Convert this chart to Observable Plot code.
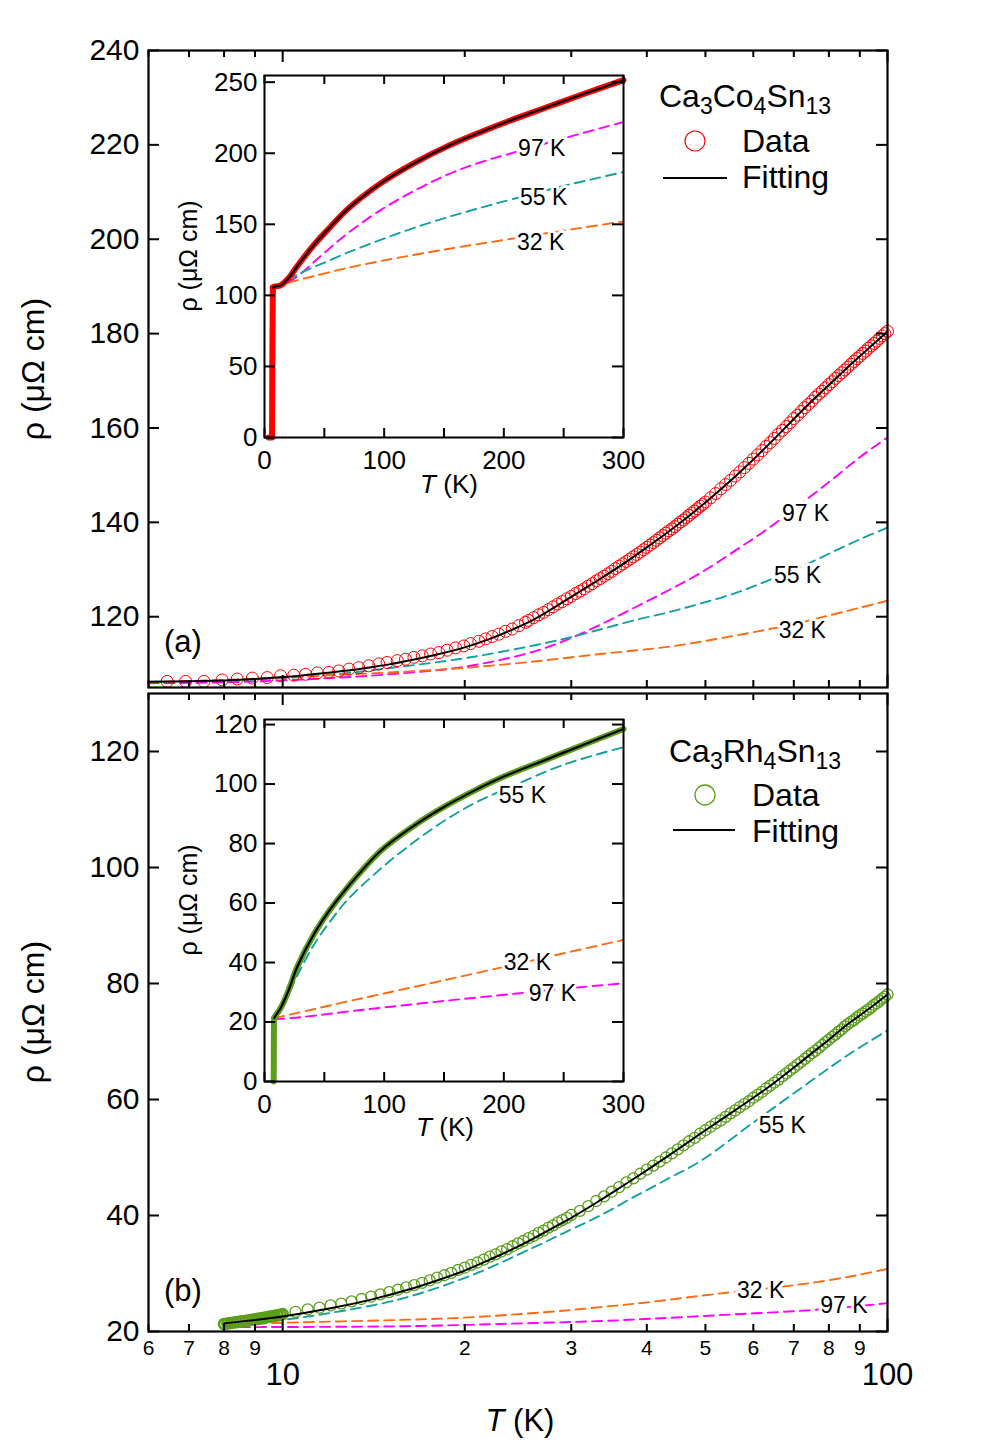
<!DOCTYPE html>
<html>
<head>
<meta charset="utf-8">
<script src="https://cdn.jsdelivr.net/npm/d3@7"></script>
<script src="https://cdn.jsdelivr.net/npm/@observablehq/plot@0.6"></script>
<style>
  body { margin: 0; background: #fff; }
  #root { position: relative; width: 982px; height: 1450px; overflow: hidden; background: #fff; }
  #root svg { overflow: visible; }
</style>
</head>
<body>
<div id="root"></div>
<script>
const FONT = '"Liberation Sans", Arial, Helvetica, sans-serif';

// ---------- tick values ----------
const yTicksA = [120, 140, 160, 180, 200, 220, 240];
const yTicksB = [20, 40, 60, 80, 100, 120];
const xMajor = [10, 100];
const xMajorLabels = ["10", "100"];
const xMinor = [6, 7, 8, 9, 20, 30, 40, 50, 60, 70, 80, 90];
const xMinorLabels = ["6", "7", "8", "9", "2", "3", "4", "5", "6", "7", "8", "9"];
const insetXTicks = [0, 50, 100, 150, 200, 250, 300];
const insetXLabels = [0, 100, 200, 300];
const insetYTicksA = [0, 50, 100, 150, 200, 250];
const insetYTicksB = [0, 20, 40, 60, 80, 100, 120];

// ---------- panel (a): Ca3Co4Sn13, main ----------
const aDataT = [6.44,6.91,7.41,7.94,8.41,8.91,9.43,9.92,10.43,10.91,11.41,11.92,12.38,12.87,13.36,13.88,14.42,14.88,15.47,15.96,16.48,17.01,17.56,18.12,18.70,19.31,19.93,20.44,21.10,21.65,22.20,22.77,23.35,23.96,24.57,25.2,
 25.5,26,26.5,27,27.5,28,28.5,29,29.5,30,30.5,31,31.5,32,32.5,33,33.5,34,34.5,35,35.5,36,36.5,37,37.5,38,38.5,39,39.5,40,40.5,41,41.5,42,42.5,43,43.5,44,44.5,45,45.5,46,46.5,47,47.5,48,48.5,49,49.5,50,
 51,52,53,54,55,56,57,58,59,60,61,62,63,64,65,66,67,68,69,70,71,72,73,74,75,76,77,78,79,80,81,82,83,84,85,86,87,88,89,90,91,92,93,94,95,96,97,98,99,100];
const aDataV = [106.3,106.3,106.3,106.6,106.8,107.0,107.1,107.5,107.6,107.8,108.1,108.2,108.5,108.9,109.2,109.6,110.0,110.3,110.7,111.0,111.4,111.7,112.1,112.4,112.9,113.4,113.8,114.3,114.8,115.3,115.8,116.3,116.9,117.4,118.1,118.8,
 119.2,119.8,120.4,120.9,121.5,122.1,122.7,123.2,123.8,124.3,124.9,125.4,125.9,126.5,127.0,127.6,128.1,128.6,129.1,129.6,130.2,130.7,131.2,131.7,132.2,132.7,133.2,133.7,134.2,134.7,135.2,135.7,136.2,136.7,137.2,137.7,138.2,138.6,139.1,139.6,140.1,140.5,141.0,141.5,142.0,142.4,142.9,143.4,143.8,144.3,
 145.2,146.1,147.1,148.0,148.9,149.8,150.7,151.6,152.5,153.4,154.3,155.2,156.1,156.9,157.8,158.7,159.5,160.3,161.1,162.0,162.7,163.5,164.3,165.0,165.7,166.5,167.2,167.8,168.5,169.2,169.8,170.5,171.1,171.7,172.3,172.9,173.5,174.1,174.7,175.2,175.8,176.3,176.9,177.4,177.9,178.4,179.0,179.5,180.0,180.5];
const aFitT = [6,7,8,9,10,11,12,13,14,15,16,18,20,22,24,26,28,30,33,36,40,45,50,55,60,65,70,75,80,85,90,95,100];
const aFitV = [106.2,106.3,106.5,106.8,107.2,107.7,108.2,108.7,109.3,109.9,110.6,112.0,113.5,115.3,117.3,119.4,121.8,124.2,127.5,130.6,134.7,139.5,144.2,148.8,153.3,157.7,161.9,165.7,169.1,172.3,175.2,177.9,180.4];
const a97T = [6,8,10,12,15,20,26,29.6,33.5,38,43.3,49.1,56,63.3,72,81.4,90,100];
const a97V = [105.9,106.1,106.5,107.0,107.8,109.4,112.6,115.2,118.3,121.8,125.5,129.3,134.0,138.6,144.0,149.3,153.8,158.0];
const a55T = [6,8,10,12,15.66,20.2,26,29.6,33.5,38,43.3,49.1,56,63.3,72,81.4,90,100];
const a55V = [106.2,106.5,107.0,107.7,109.4,111.3,113.9,115.5,117.3,119.2,120.9,122.8,125.0,127.6,130.6,133.8,136.4,138.9];
const a32T = [6,8,10,12,15.66,20.2,26,33.5,43.3,49.1,56,63.3,72,81.4,90,100];
const a32V = [106.1,106.6,107.1,107.6,108.3,109.2,110.5,112.1,113.6,114.7,116.0,117.3,118.8,120.5,121.9,123.4];
const aLabT = [73.2, 71.0, 72.3];
const aLabV = [141.8, 128.7, 117.0];
const aLabS = ["97 K", "55 K", "32 K"];

// ---------- panel (b): Ca3Rh4Sn13, main ----------
const bDataT = [8,8.1,8.2,8.3,8.4,8.5,8.6,8.7,8.8,8.9,9,9.1,9.2,9.3,9.4,9.5,9.6,9.7,9.8,9.9,10,
 10.5,11,11.5,12,12.5,13,13.5,14,14.5,15,15.5,16,16.5,17,17.5,18,18.5,19,19.5,20,20.5,21,21.5,22,22.5,23,23.5,24,24.5,25,25.5,26,26.5,27,27.5,28,28.5,29,29.5,30,
 31,32,33,34,35,36,37,38,39,40,41,42,43,44,45,46,47,48,49,50,51,52,53,54,55,56,57,58,59,60,61,62,63,64,65,66,67,68,69,70,71,72,73,74,75,76,77,78,79,80,81,82,83,84,85,86,87,88,89,90,91,92,93,94,95,96,97,98,99,100];
const bDataV = [21.30,21.38,21.46,21.54,21.62,21.70,21.78,21.86,21.94,22.02,22.10,22.18,22.26,22.35,22.44,22.53,22.62,22.71,22.80,22.90,23.00,
 23.4,23.8,24.1,24.5,24.8,25.2,25.6,26.0,26.4,26.8,27.2,27.6,28.0,28.4,28.8,29.3,29.7,30.1,30.6,31.0,31.5,31.9,32.4,32.9,33.3,33.8,34.2,34.7,35.2,35.6,36.1,36.5,37.0,37.4,37.9,38.3,38.8,39.2,39.6,40.1,
 40.8,41.6,42.5,43.3,44.1,44.9,45.7,46.4,47.2,47.9,48.6,49.3,50.0,50.7,51.4,52.1,52.8,53.4,54.1,54.7,55.3,55.9,56.4,57.0,57.6,58.1,58.7,59.2,59.7,60.3,60.8,61.3,61.9,62.4,62.9,63.4,64.0,64.5,65.0,65.5,66.0,66.5,67.0,67.5,68.0,68.4,68.9,69.4,69.9,70.3,70.8,71.2,71.7,72.1,72.6,73.0,73.4,73.7,74.1,74.5,74.8,75.2,75.5,75.9,76.3,76.6,77.0,77.4,77.7,78.1];
const bFitT = [8,9,10,12,14,16,18,20,22,25,28,30,33,36,40,45,50,55,60,65,70,75,80,85,90,95,100];
const bFitV = [21.4,22.0,22.6,24.0,25.5,27.1,28.8,30.5,32.4,35.1,37.9,39.6,42.2,44.7,47.8,51.4,54.7,57.6,60.3,62.9,65.5,68.0,70.3,72.6,74.5,76.3,78.1];
const b55T = [8,10,12,15.66,20.3,26,29.6,33.5,38.1,43.3,49.1,60.5,74.3,86.4,100];
const b55V = [21.1,22.0,23.2,25.6,29.5,34.5,37.3,40.0,43.2,46.3,49.4,56.3,63.0,67.8,71.9];
const b32T = [8,10,15.66,20,27.7,33.5,40.6,52.3,69.1,79.5,90,100];
const b32V = [21.2,21.5,22.0,22.4,23.4,24.2,25.1,26.5,27.9,28.8,29.8,30.8];
const b97T = [8,15.66,22.9,33.5,40.6,52.3,75,90,100];
const b97V = [20.75,20.9,21.3,21.8,22.2,22.8,23.7,24.4,24.9];
const bLabT = [67.0, 61.7, 84.7];
const bLabV = [55.5, 27.1, 24.5];
const bLabS = ["55 K", "32 K", "97 K"];

// ---------- inset (a) ----------
const iaDataT = [3.5,6.3,6.6,7,9,13.4,20,27.3,41.3,55.2,69.2,97,125,153,181,208.5,236.4,264.3,300];
const iaDataV = [0,0,60,105.5,106.3,107,112,120.5,135.5,148.3,160.5,178.8,193,205,215,224,232.5,241,251.4];
const ia97T = [7,13,20,30,41.3,55,69.2,97,125,153,180,208.5,250,300];
const ia97V = [106,106.8,109.2,115,123.5,133.5,143.5,160,173.5,185,193.5,200.5,210.5,222];
const ia55T = [7,15,20,30,40,50,69.2,97,125,153,180,208.5,250,300];
const ia55V = [106,109.2,111.3,115.6,119.5,123,130,139,147.5,155,161.5,168,177,186.8];
const ia32T = [7,20,40,69.2,100,153,208.5,250,300];
const ia32V = [106,109.0,113.3,119.3,124.6,132.6,140.1,145.6,152];
const iaLabT = [231.7, 233.3, 230.8];
const iaLabV = [203.5, 169, 137.3];
const iaLabS = ["97 K", "55 K", "32 K"];

// ---------- inset (b) ----------
const ibDataT = [7.7,7.8,7.9,8.2,10,13.4,20,27.3,41.3,55.2,69.2,97,125,150,175,200,236,264,300];
const ibDataV = [0,10,21.2,21.4,22.6,24.6,30.5,38.5,49.5,58,65.2,77.5,86,92.3,97.7,102.5,108.3,112.8,118.5];
const ib55T = [8.2,13.4,20,27.3,41.3,55.2,69.2,97,124.9,152.8,180,208.5,250,300];
const ib55V = [21.3,23.5,29,35.5,46,54,61,71.5,80.5,88.3,94.5,99.5,106.5,112.4];
const ib32T = [8.2,40,69.2,100,153,208.5,250,300];
const ib32V = [21.3,24.2,26.9,29.6,34.3,39.3,43.1,47.6];
const ib97T = [8.2,30,69.2,100,153,208.5,250,300];
const ib97V = [20.9,21.6,23.5,24.9,27.2,29.5,31.2,33];
const ibLabT = [215.5, 219.7, 240.6];
const ibLabV = [96.1, 40.1, 29.5];
const ibLabS = ["55 K", "32 K", "97 K"];

// ---------- colours ----------
const RED = "#ff0000", GREEN = "#5a9e1c", MAG = "#ff00ff", TEAL = "#15a0a0", ORANGE = "#ff6a10";

const rows = (T, V) => T.slice(0, Math.min(T.length, V.length)).map((t, i) => ({T: t, v: V[i]}));
const labRows = (T, V, S) => T.map((t, i) => ({T: t, v: V[i], s: S[i]}));

const dash = (T, V, color) => Plot.line(rows(T, V), {x: "T", y: "v", stroke: color, strokeWidth: 1.9, strokeDasharray: "10,6", curve: "catmull-rom"});
const fitLine = (data, w = 2) => Plot.line(data, {x: "T", y: "v", stroke: "black", strokeWidth: w, curve: "catmull-rom"});
const labels = (T, V, S) => Plot.text(labRows(T, V, S), {x: "T", y: "v", text: "s", fontSize: 23, fill: "black", stroke: "white", strokeWidth: 6, paintOrder: "stroke"});

const root = document.getElementById("root");
function place(el, left, top) {
  el.style.position = "absolute";
  el.style.left = left + "px";
  el.style.top = top + "px";
  root.appendChild(el);
}

function mainPanel({yDomain, yTicks, height, marginTop, marginBottom, marks, bottomLabels}) {
  const fw = 982 - 148 - 95, fh = height - marginTop - marginBottom;
  const extra = bottomLabels ? [
    Plot.text(xMinor, {x: d => d, text: (d, i) => xMinorLabels[i], frameAnchor: "bottom", lineAnchor: "middle", dy: 17, fontSize: 21}),
    Plot.text(xMajor, {x: d => d, text: (d, i) => xMajorLabels[i], frameAnchor: "bottom", lineAnchor: "middle", dy: 44, fontSize: 31})
  ] : [];
  return Plot.plot({
    width: 982, height, marginLeft: 148, marginRight: 95, marginTop, marginBottom,
    x: {type: "log", domain: [6, 100], axis: null},
    y: {domain: yDomain, axis: null},
    style: {fontFamily: FONT, background: "transparent", overflow: "visible", color: "black"},
    marks: [
      ...marks,
      Plot.tickY(yTicks, {y: d => d, insetRight: fw - 11, strokeWidth: 2}),
      Plot.tickY(yTicks, {y: d => d, insetLeft: fw - 11, strokeWidth: 2}),
      Plot.tickX(xMajor, {x: d => d, insetTop: fh - 12, strokeWidth: 2}),
      Plot.tickX(xMinor, {x: d => d, insetTop: fh - 7, strokeWidth: 2}),
      Plot.tickX(xMajor, {x: d => d, insetBottom: fh - 12, strokeWidth: 2}),
      Plot.tickX(xMinor, {x: d => d, insetBottom: fh - 7, strokeWidth: 2}),
      Plot.text(yTicks, {y: d => d, text: d => String(d), frameAnchor: "left", lineAnchor: "middle", textAnchor: "end", dx: -9, fontSize: 30}),
      ...extra,
      Plot.frame({stroke: "black", strokeWidth: 2.2})
    ]
  });
}

function insetPanel({yDomain, yTicks, marks}) {
  const fw = 480 - 84 - 37, fh = 450 - 15 - 73;
  return Plot.plot({
    width: 480, height: 450, marginLeft: 84, marginRight: 37, marginTop: 15, marginBottom: 73,
    x: {domain: [0, 300], axis: null},
    y: {domain: yDomain, axis: null},
    style: {fontFamily: FONT, background: "transparent", overflow: "visible", color: "black"},
    marks: [
      ...marks,
      Plot.tickY(yTicks, {y: d => d, insetRight: fw - 11, strokeWidth: 2}),
      Plot.tickY(yTicks, {y: d => d, insetLeft: fw - 11, strokeWidth: 2}),
      Plot.tickX(insetXTicks, {x: d => d, insetTop: fh - 9, strokeWidth: 2}),
      Plot.tickX(insetXTicks, {x: d => d, insetBottom: fh - 9, strokeWidth: 2}),
      Plot.text(yTicks, {y: d => d, text: d => String(d), frameAnchor: "left", lineAnchor: "middle", textAnchor: "end", dx: -7, fontSize: 26}),
      Plot.text(insetXLabels, {x: d => d, text: d => String(d), frameAnchor: "bottom", lineAnchor: "middle", dy: 23, fontSize: 26}),
      Plot.frame({stroke: "black", strokeWidth: 2})
    ]
  });
}

// main (a)
place(mainPanel({
  yDomain: [105, 240], yTicks: yTicksA, height: 700, marginTop: 50, marginBottom: 13,
  marks: [
    dash(a97T, a97V, MAG), dash(a55T, a55V, TEAL), dash(a32T, a32V, ORANGE),
    labels(aLabT, aLabV, aLabS),
    Plot.dot(rows(aDataT, aDataV), {x: "T", y: "v", r: 6, stroke: RED, strokeWidth: 1, fill: "none"}),
    fitLine(rows(aFitT, aFitV), 2)
  ]
}), 0, 0);

// main (b)
const bRows = rows(bDataT, bDataV);
place(mainPanel({
  yDomain: [20, 130], yTicks: yTicksB, height: 770, marginTop: 13, marginBottom: 119, bottomLabels: true,
  marks: [
    dash(b55T, b55V, TEAL), dash(b32T, b32V, ORANGE), dash(b97T, b97V, MAG),
    labels(bLabT, bLabV, bLabS),
    Plot.dot(bRows.filter(d => d.T <= 10), {x: "T", y: "v", r: 5, stroke: GREEN, strokeWidth: 2.6, fill: "none"}),
    Plot.dot(bRows.filter(d => d.T > 10), {x: "T", y: "v", r: 5.5, stroke: GREEN, strokeWidth: 1.3, fill: "none"}),
    fitLine(rows(bFitT, bFitV), 2)
  ]
}), 0, 680);

// inset (a): thick measured curve (vertical superconducting drop drawn linearly), fit on top
const iaRows = rows(iaDataT, iaDataV);
place(insetPanel({
  yDomain: [0, 254.7], yTicks: insetYTicksA,
  marks: [
    dash(ia97T, ia97V, MAG), dash(ia55T, ia55V, TEAL), dash(ia32T, ia32V, ORANGE),
    labels(iaLabT, iaLabV, iaLabS),
    Plot.line(iaRows.slice(0, 4), {x: "T", y: "v", stroke: RED, strokeWidth: 6, strokeLinecap: "round"}),
    Plot.line(iaRows.slice(3), {x: "T", y: "v", stroke: RED, strokeWidth: 6, curve: "catmull-rom", strokeLinecap: "round"}),
    fitLine(iaRows.slice(3), 2.2)
  ]
}), 180, 60);

// inset (b)
const ibRows = rows(ibDataT, ibDataV);
place(insetPanel({
  yDomain: [0, 121.7], yTicks: insetYTicksB,
  marks: [
    dash(ib55T, ib55V, TEAL), dash(ib32T, ib32V, ORANGE), dash(ib97T, ib97V, MAG),
    labels(ibLabT, ibLabV, ibLabS),
    Plot.line(ibRows.slice(0, 4), {x: "T", y: "v", stroke: GREEN, strokeWidth: 6, strokeLinecap: "round"}),
    Plot.line(ibRows.slice(3), {x: "T", y: "v", stroke: GREEN, strokeWidth: 6, curve: "catmull-rom", strokeLinecap: "round"}),
    fitLine(ibRows.slice(3), 2.2)
  ]
}), 180, 704);

// ---------- text overlay: axis titles, panel labels, legends ----------
const overlay = `
<svg xmlns="http://www.w3.org/2000/svg" width="982" height="1450" style="position:absolute;left:0;top:0;pointer-events:none" font-family='"Liberation Sans", Arial, sans-serif' fill="black">
  <text transform="translate(44,369) rotate(-90)" text-anchor="middle" font-size="32">ρ (μΩ cm)</text>
  <text transform="translate(44,1012) rotate(-90)" text-anchor="middle" font-size="32">ρ (μΩ cm)</text>
  <text transform="translate(197,256) rotate(-90)" text-anchor="middle" font-size="25">ρ (μΩ cm)</text>
  <text transform="translate(197,900) rotate(-90)" text-anchor="middle" font-size="25">ρ (μΩ cm)</text>
  <text x="520" y="1431" text-anchor="middle" font-size="31"><tspan font-style="italic">T</tspan> (K)</text>
  <text x="449" y="493" text-anchor="middle" font-size="26"><tspan font-style="italic">T</tspan> (K)</text>
  <text x="445" y="1136" text-anchor="middle" font-size="26"><tspan font-style="italic">T</tspan> (K)</text>
  <text x="164" y="652" font-size="31">(a)</text>
  <text x="164" y="1301" font-size="31">(b)</text>

  <text x="659" y="107" font-size="32">Ca<tspan font-size="23" dy="7">3</tspan><tspan dy="-7">Co</tspan><tspan font-size="23" dy="7">4</tspan><tspan dy="-7">Sn</tspan><tspan font-size="23" dy="7">13</tspan></text>
  <circle cx="695" cy="141" r="10" fill="none" stroke="${RED}" stroke-width="1.2"/>
  <text x="742" y="152" font-size="32">Data</text>
  <line x1="663" x2="727" y1="178" y2="178" stroke="black" stroke-width="2"/>
  <text x="742" y="188" font-size="32">Fitting</text>

  <text x="669" y="762" font-size="32">Ca<tspan font-size="23" dy="7">3</tspan><tspan dy="-7">Rh</tspan><tspan font-size="23" dy="7">4</tspan><tspan dy="-7">Sn</tspan><tspan font-size="23" dy="7">13</tspan></text>
  <circle cx="705" cy="795" r="10" fill="none" stroke="${GREEN}" stroke-width="1.3"/>
  <text x="752" y="806" font-size="32">Data</text>
  <line x1="673" x2="735" y1="830" y2="830" stroke="black" stroke-width="2"/>
  <text x="752" y="842" font-size="32">Fitting</text>
</svg>`;
root.insertAdjacentHTML("beforeend", overlay);
</script>
</body>
</html>
